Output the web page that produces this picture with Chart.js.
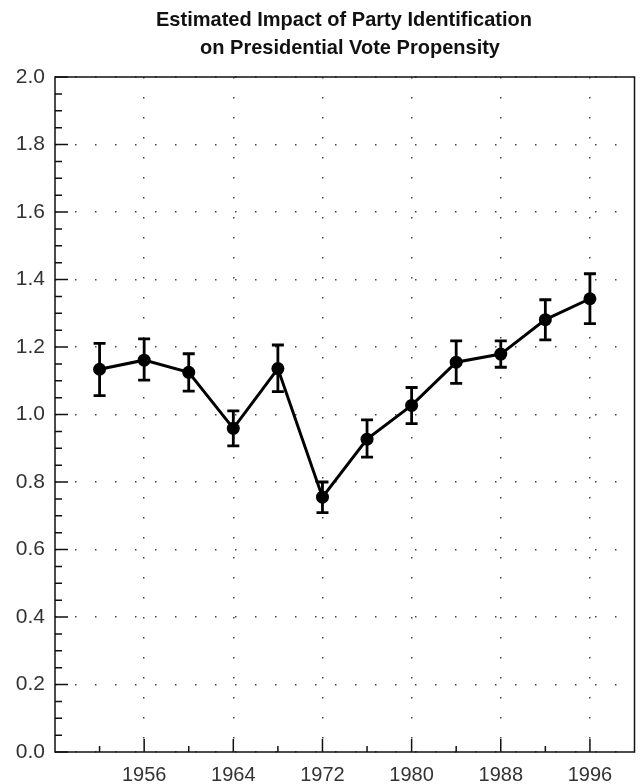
<!DOCTYPE html>
<html>
<head>
<meta charset="utf-8">
<script src="https://cdn.jsdelivr.net/npm/chart.js@4.4.1/dist/chart.umd.min.js"></script>
<style>
  html, body { margin: 0; padding: 0; background: #fff; }
  #wrap { width: 641px; height: 784px; }
</style>
</head>
<body>
<div id="wrap"><canvas id="chart" width="641" height="784"></canvas></div>
<script>
// Election years and estimated effect (with upper / lower bounds)
const years = [1952, 1956, 1960, 1964, 1968, 1972, 1976, 1980, 1984, 1988, 1992, 1996];
const impact = [1.134, 1.161, 1.125, 0.959, 1.136, 0.755, 0.927, 1.027, 1.155, 1.179, 1.281, 1.343];
const upper = [1.211, 1.224, 1.180, 1.011, 1.206, 0.800, 0.984, 1.080, 1.218, 1.218, 1.340, 1.417];
const lower = [1.056, 1.102, 1.069, 0.907, 1.068, 0.709, 0.874, 0.973, 1.092, 1.140, 1.221, 1.269];

const xTicks = [1956, 1964, 1972, 1980, 1988, 1996];
const yTicks = [0, 0.2, 0.4, 0.6, 0.8, 1.0, 1.2, 1.4, 1.6, 1.8, 2.0];
const titleLines = ["Estimated Impact of Party Identification", "on Presidential Vote Propensity"];

const fontFamily = "'Liberation Sans', Arial, sans-serif";

// Title: condensed bold look, squeeze the bold face a little
const titlePlugin = {
  id: "titleText",
  afterDraw(chart) {
    const ctx = chart.ctx;
    ctx.save();
    ctx.fillStyle = "#111";
    ctx.font = "bold 21px " + fontFamily;
    ctx.textAlign = "center";
    ctx.textBaseline = "alphabetic";
    const sx = 376 / ctx.measureText(titleLines[0]).width;
    ctx.scale(sx, 1);
    ctx.fillText(titleLines[0], 344 / sx, 26);
    ctx.fillText(titleLines[1], 350 / sx, 54);
    ctx.restore();
  },
};

// Box around the plot + tick marks pointing inward
const framePlugin = {
  id: "frame",
  afterDraw(chart) {
    const { ctx, chartArea: a, scales } = chart;
    const x = scales.x, y = scales.y;
    ctx.save();
    ctx.strokeStyle = "#111";
    ctx.lineWidth = 1.5;
    ctx.strokeRect(a.left, a.top, a.right - a.left, a.bottom - a.top);

    ctx.beginPath();
    for (let i = 0; i <= 40; i++) {
      const py = y.getPixelForValue(i * 0.05);
      const len = i % 4 === 0 ? 13 : 7;
      ctx.moveTo(a.left, py);
      ctx.lineTo(a.left + len, py);
    }
    years.forEach((yr) => {
      const px = x.getPixelForValue(yr);
      const len = xTicks.includes(yr) ? 13 : 6;
      ctx.moveTo(px, a.bottom);
      ctx.lineTo(px, a.bottom - len);
    });
    ctx.stroke();
    ctx.restore();
  },
};

// Error bars with caps
const errorBars = {
  id: "errorBars",
  afterDatasetsDraw(chart) {
    const { ctx, scales } = chart;
    const x = scales.x, y = scales.y;
    ctx.save();
    ctx.strokeStyle = "#000";
    ctx.lineWidth = 2.8;
    ctx.beginPath();
    years.forEach((yr, i) => {
      const px = x.getPixelForValue(yr);
      const top = y.getPixelForValue(upper[i]);
      const bot = y.getPixelForValue(lower[i]);
      ctx.moveTo(px, top);
      ctx.lineTo(px, bot);
      ctx.moveTo(px - 6, top);
      ctx.lineTo(px + 6, top);
      ctx.moveTo(px - 6, bot);
      ctx.lineTo(px + 6, bot);
    });
    ctx.stroke();
    ctx.restore();
  },
};

// dotted grid (v4 takes the dash from border options)
const dottedGrid = { color: "#444", lineWidth: 1.5, drawTicks: false };
const dottedBorder = { display: false, dash: [1.5, 18.5], dashOffset: 0 };

new Chart(document.getElementById("chart"), {
  type: "line",
  data: {
    datasets: [
      {
        data: years.map((yr, i) => ({ x: yr, y: impact[i] })),
        borderColor: "#000",
        borderWidth: 3,
        backgroundColor: "#000",
        pointRadius: 6.5,
        pointBackgroundColor: "#000",
        pointBorderWidth: 0,
        tension: 0,
        clip: false,
      },
    ],
  },
  options: {
    responsive: false,
    animation: false,
    layout: { padding: { top: 77, right: 1, left: 0, bottom: 0 } },
    plugins: {
      legend: { display: false },
      tooltip: { enabled: false },
    },
    scales: {
      x: {
        type: "linear",
        min: 1948,
        max: 2000,
        afterBuildTicks: (s) => { s.ticks = xTicks.map((v) => ({ value: v })); },
        afterFit: (s) => { s.height = 32; },
        grid: dottedGrid,
        border: dottedBorder,
        ticks: {
          font: { family: fontFamily, size: 20 },
          color: "#333",
          padding: 11,
          maxRotation: 0,
          callback: (v) => String(v),
        },
      },
      y: {
        type: "linear",
        min: 0,
        max: 2,
        afterBuildTicks: (s) => { s.ticks = yTicks.map((v) => ({ value: v })); },
        afterFit: (s) => { s.width = 55; },
        grid: dottedGrid,
        border: dottedBorder,
        ticks: {
          font: { family: fontFamily, size: 21 },
          color: "#333",
          padding: 10,
          callback: (v) => Number(v).toFixed(1),
        },
      },
    },
  },
  plugins: [titlePlugin, framePlugin, errorBars],
});
</script>
</body>
</html>
